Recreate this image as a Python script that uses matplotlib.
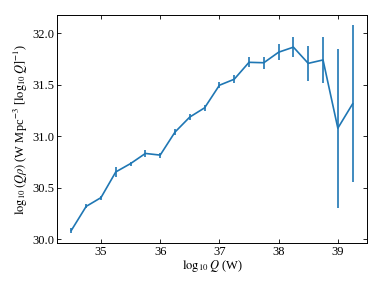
import matplotlib
matplotlib.use("Agg")
import matplotlib.pyplot as plt

plt.rcParams['font.family'] = ['Liberation Serif', 'DejaVu Serif']
plt.rcParams['mathtext.fontset'] = 'stix'

logQ = [34.5, 34.75, 35.0, 35.25, 35.5, 35.75, 36.0, 36.25, 36.5, 36.75,
        37.0, 37.25, 37.5, 37.75, 38.0, 38.25, 38.5, 38.75, 39.0, 39.25]
logQrho = [30.088, 30.32, 30.405, 30.654, 30.735, 30.833, 30.817, 31.04, 31.186, 31.275,
           31.494, 31.552, 31.716, 31.712, 31.814, 31.863, 31.706, 31.739, 31.078, 31.314]
err = [0.025, 0.02, 0.02, 0.05, 0.02, 0.03, 0.025, 0.03, 0.03, 0.03,
       0.03, 0.04, 0.05, 0.06, 0.08, 0.10, 0.17, 0.22, 0.77, 0.76]

fig = plt.figure(figsize=(3.82, 2.87), dpi=100)
ax = fig.add_axes([57.3/382, 1 - 243.3/287, (366.7-57.3)/382, (243.3-15)/287])
ax.errorbar(logQ, logQrho, yerr=err, color='#1f77b4', lw=1.2, elinewidth=1.2)

ax.set_xticks([35, 36, 37, 38, 39])
ax.set_yticks([30.0, 30.5, 31.0, 31.5, 32.0])
ax.set_yticklabels(['30.0', '30.5', '31.0', '31.5', '32.0'])
ax.tick_params(direction='in', top=True, right=True, labelsize=9, length=3, width=0.6, pad=2)
for s in ax.spines.values():
    s.set_linewidth(0.7)
ax.set_xlabel(r'$\log_{10}Q$ (W)', fontsize=9, labelpad=0)
ax.set_ylabel(r'$\log_{10}(Q\rho)$ (W Mpc$^{-3}$ [$\log_{10}Q]^{-1}$)', fontsize=9, labelpad=2)

fig.savefig('out.png', dpi=100)
